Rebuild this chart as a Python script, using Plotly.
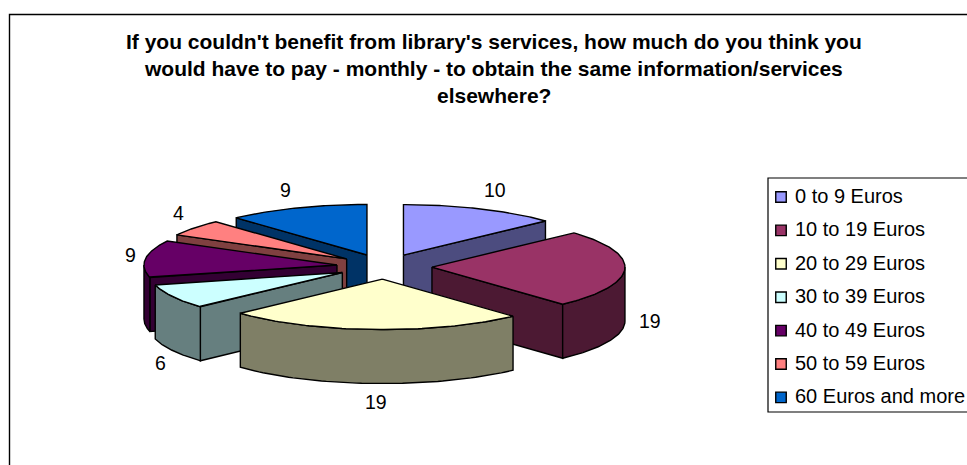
import numpy as np
import plotly.graph_objects as go

# --- data ---
categories = ["0 to 9 Euros", "10 to 19 Euros", "20 to 29 Euros", "30 to 39 Euros",
              "40 to 49 Euros", "50 to 59 Euros", "60 Euros and more"]
values = [10, 19, 19, 6, 9, 4, 9]
top_colors = ["#9999FF", "#993366", "#FFFFCC", "#CCFFFF", "#660066", "#FF8080", "#0066CC"]
side_colors = ["#4C4C7F", "#4C1933", "#7F7F66", "#667F7F", "#330033", "#7F4040", "#003366"]
title_lines = ["If you couldn't benefit from library's services, how much do you think you",
               "would have to pay - monthly - to obtain the same information/services",
               "elsewhere?"]

# --- projection of the tilted, exploded pie ---
CX, CY, RX, RY, EXPLODE, DEPTH = 384.3, 266.6, 193.0, 50.5, 47.7, 54.0
DRAW_ORDER = [0, 6, 5, 4, 3, 1, 2]
LABEL_XY = [(495, 190), (650, 321), (376, 402), (160, 363), (130, 255), (178, 213), (285, 190)]
FONT = "Liberation Sans, Arial, sans-serif"
LEGEND_BOX = (768, 178, 1000, 412)
LEGEND_SWATCH_X, LEGEND_TEXT_X, LEGEND_Y0, LEGEND_DY = 781, 792.5, 197, 33.4
LINE_W = 1.4

total = sum(values)
edges = np.cumsum([0] + values) / total * 2 * np.pi


def px(apex, th):
    return apex[0] + RX * np.sin(th), apex[1] - RY * np.cos(th)


fig = go.Figure()


def poly(xs, ys, fill):
    fig.add_trace(go.Scatter(x=list(xs) + [xs[0]], y=list(ys) + [ys[0]], mode="lines",
                             fill="toself", fillcolor=fill,
                             line=dict(color="black", width=LINE_W),
                             showlegend=False, hoverinfo="skip"))


for i in DRAW_ORDER:
    a0, a1 = edges[i], edges[i + 1]
    mid = (a0 + a1) / 2
    apex = (CX + EXPLODE * np.sin(mid), CY - EXPLODE * RY / RX * np.cos(mid))
    ends = {a0: np.sin(a0) < 0, a1: np.sin(a1) > 0}
    for th, visible in ends.items():
        if visible:
            ex, ey = px(apex, th)
            poly([apex[0], ex, ex, apex[0]], [apex[1], ey, ey + DEPTH, apex[1] + DEPTH], side_colors[i])
    lo, hi = max(a0, np.pi / 2), min(a1, 3 * np.pi / 2)
    if hi > lo:
        t = np.linspace(lo, hi, 60)
        ax, ay = px(apex, t)
        poly(np.r_[ax, ax[::-1]], np.r_[ay, ay[::-1] + DEPTH], side_colors[i])
    t = np.linspace(a0, a1, 80)
    ax, ay = px(apex, t)
    poly(np.r_[apex[0], ax], np.r_[apex[1], ay], top_colors[i])

annotations = [dict(x=x, y=y, xref="x", yref="y", text=str(v), showarrow=False,
                    font=dict(family=FONT, size=19.5, color="black"))
               for v, (x, y) in zip(values, LABEL_XY)]
for k, line in enumerate(title_lines):
    annotations.append(dict(x=493.5, y=41 + 27 * k, xref="x", yref="y", text="<b>%s</b>" % line,
                            showarrow=False, font=dict(family=FONT, size=21, color="black")))

for k, (name, color) in enumerate(zip(categories, top_colors)):
    yk = LEGEND_Y0 + k * LEGEND_DY
    fig.add_trace(go.Scatter(x=[LEGEND_SWATCH_X], y=[yk], mode="markers", name=name,
                             showlegend=False, hoverinfo="name",
                             marker=dict(symbol="square", size=10.5, color=color,
                                         line=dict(color="black", width=LINE_W))))
    annotations.append(dict(x=LEGEND_TEXT_X, y=yk - 1, xref="x", yref="y", xanchor="left", text=name,
                            showarrow=False, font=dict(family=FONT, size=20, color="black")))

fig.update_layout(
    width=967, height=465, margin=dict(l=0, r=0, t=0, b=0),
    paper_bgcolor="white", plot_bgcolor="white",
    xaxis=dict(range=[0, 967], visible=False, fixedrange=True),
    yaxis=dict(range=[465, 0], visible=False, fixedrange=True),
    annotations=annotations,
    shapes=[dict(type="rect", xref="x", yref="y", x0=9.5, y0=14.5, x1=1000, y1=500,
                 line=dict(color="black", width=1.4), layer="below"),
            dict(type="rect", xref="x", yref="y", x0=LEGEND_BOX[0], y0=LEGEND_BOX[1],
                 x1=LEGEND_BOX[2], y1=LEGEND_BOX[3], line=dict(color="black", width=1.2),
                 fillcolor="white", layer="below")],
    showlegend=False,
)
fig.write_html("out.html", post_script="document.body.style.margin='0';",
               config=dict(displayModeBar=False))
